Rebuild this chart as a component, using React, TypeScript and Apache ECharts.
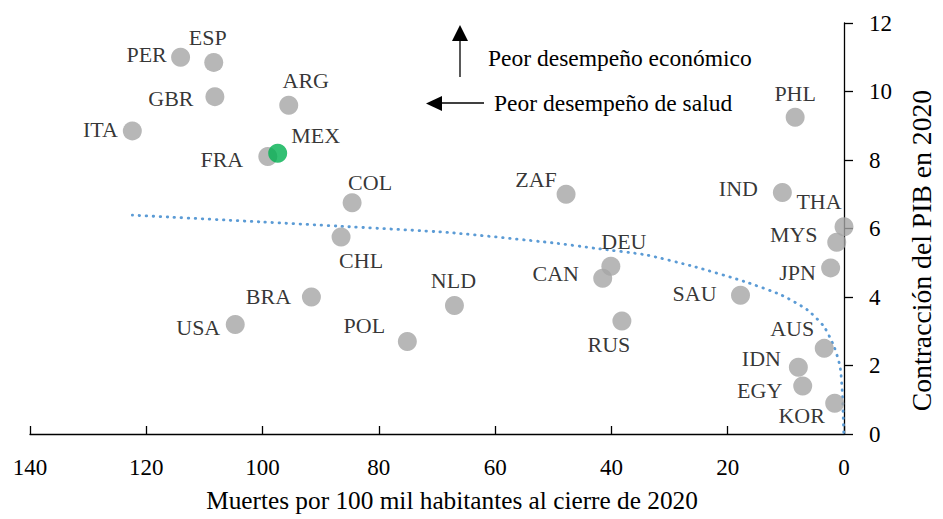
import React, { useEffect, useRef } from "react";
import * as echarts from "echarts";

const countries = ["PER", "ESP", "GBR", "ARG", "ITA", "FRA", "MEX", "COL", "CHL", "PHL", "ZAF", "IND", "THA", "MYS", "CAN", "DEU", "JPN", "SAU", "RUS", "AUS", "IDN", "EGY", "KOR", "BRA", "USA", "POL", "NLD"];
const deaths = [114.1, 108.4, 108.2, 95.5, 122.4, 99.1, 97.4, 84.6, 86.5, 8.4, 47.8, 10.6, 0.0, 1.25, 41.5, 40.1, 2.3, 17.8, 38.2, 3.4, 7.85, 7.1, 1.6, 91.6, 104.7, 75.1, 67.0];
const gdpContraction = [11.0, 10.85, 9.85, 9.6, 8.85, 8.1, 8.2, 6.75, 5.75, 9.25, 7.0, 7.05, 6.05, 5.6, 4.55, 4.9, 4.85, 4.05, 3.3, 2.5, 1.95, 1.4, 0.9, 4.0, 3.2, 2.7, 3.75];

// Trend line
const trendX = [122.4, 100, 87.1, 67.8, 50, 42.7, 34.1, 25.6, 17.1, 10.8, 6.27, 3.41, 1.7, 0.68, 0.28, 0.1, 0.03];
const trendY = [6.39, 6.19, 6.07, 5.88, 5.58, 5.42, 5.23, 4.88, 4.45, 4.06, 3.62, 3.13, 2.55, 1.97, 1.19, 0.32, 0.0];

const yTicks = [0, 2, 4, 6, 8, 10, 12];
const xTicks = [0, 20, 40, 60, 80, 100, 120, 140];

const highlight = "MEX";

// label offsets (px, relative to point centre)
const labelOffsets: Record<string, [number, number]> = {
  PER: [-34, -3], ESP: [-6, -25], GBR: [-44, 2], ARG: [17, -25], ITA: [-32, -1],
  FRA: [-46, 3], MEX: [38, -18], COL: [18, -20], CHL: [20, 23], PHL: [0, -24],
  ZAF: [-30, -15], IND: [-44, -4], THA: [-25, -25], MYS: [-43, -8], DEU: [13, -25],
  CAN: [-47, -5], JPN: [-33, 5], SAU: [-46, -2], RUS: [-13, 24], AUS: [-32, -20],
  IDN: [-37, -9], EGY: [-43, 4], KOR: [-33, 12], BRA: [-43, -1], USA: [-37, 3],
  POL: [-43, -16], NLD: [-1, -25],
};

const FONT = "'Liberation Serif', 'Times New Roman', 'DejaVu Serif', serif";

export default function App() {
  const ref = useRef<HTMLDivElement>(null);
  useEffect(() => {
    document.documentElement.style.margin = "0";
    document.documentElement.style.overflow = "hidden";
    document.body.style.margin = "0";
    document.body.style.overflow = "hidden";
    if (!ref.current) return;
    const chart = echarts.init(ref.current, null, { renderer: "svg" });
    const points = countries.map((c, i) => ({
      name: c,
      value: [deaths[i], gdpContraction[i]],
      itemStyle: { color: c === highlight ? "#00b050" : "#a5a5a5" },
      label: { offset: labelOffsets[c] },
      z: c === highlight ? 3 : 2,
    }));
    chart.setOption({
      animation: false,
      backgroundColor: "#ffffff",
      textStyle: { fontFamily: FONT },
      grid: { left: 30, right: 93, top: 23, bottom: 85, containLabel: false },
      xAxis: {
        type: "value",
        inverse: true,
        min: xTicks[0],
        max: xTicks[xTicks.length - 1],
        interval: 20,
        name: "Muertes por 100 mil habitantes al cierre de 2020",
        nameLocation: "middle",
        nameGap: 53,
        nameTextStyle: { fontFamily: FONT, fontSize: 25.3, color: "#000", padding: [0, 0, 0, 30] },
        axisLine: { show: true, lineStyle: { color: "#000", width: 1.3 } },
        axisTick: { show: true, inside: true, length: 8, lineStyle: { color: "#000", width: 1.3 } },
        axisLabel: { fontFamily: FONT, fontSize: 23, color: "#000", margin: 22 },
        splitLine: { show: false },
      },
      yAxis: {
        type: "value",
        position: "right",
        min: yTicks[0],
        max: yTicks[yTicks.length - 1],
        interval: 2,
        name: "Contracción del PIB en 2020",
        nameLocation: "middle",
        nameRotate: 90,
        nameGap: 63,
        nameTextStyle: { fontFamily: FONT, fontSize: 27.7, color: "#000", padding: [0, 44, 0, 0] },
        axisLine: { show: true, lineStyle: { color: "#000", width: 1.3 } },
        axisTick: { show: true, inside: false, length: 9, lineStyle: { color: "#000", width: 1.3 } },
        axisLabel: { fontFamily: FONT, fontSize: 23, color: "#000", margin: 25 },
        splitLine: { show: false },
      },
      series: [
        {
          type: "line",
          data: trendX.map((x, i) => [x, trendY[i]]),
          showSymbol: false,
          smooth: 0.2,
          lineStyle: { color: "#5b9bd5", width: 2.8, type: [0.5, 6.5], cap: "round" },
          z: 1,
          clip: false,
        },
        {
          type: "scatter",
          data: points,
          symbolSize: 19,
          clip: false,
          label: {
            show: true,
            position: "inside",
            formatter: "{b}",
            fontFamily: FONT,
            fontSize: 22,
            color: "#000",
            align: "center",
            verticalAlign: "middle",
          },
          z: 2,
        },
      ],
      graphic: [
        { type: "line", shape: { x1: 460, y1: 77, x2: 460, y2: 38 }, style: { stroke: "#000", lineWidth: 1.3 } },
        { type: "polygon", shape: { points: [[452, 41], [468, 41], [460, 25]] }, style: { fill: "#000" } },
        { type: "line", shape: { x1: 484, y1: 103, x2: 438, y2: 103 }, style: { stroke: "#000", lineWidth: 1.3 } },
        { type: "polygon", shape: { points: [[442, 96], [442, 111], [426, 103.5]] }, style: { fill: "#000" } },
        {
          type: "text", x: 488, y: 58,
          style: { text: "Peor desempeño económico", fontFamily: FONT, fontSize: 23.5, fill: "#000", textVerticalAlign: "middle" },
        },
        {
          type: "text", x: 494, y: 103,
          style: { text: "Peor desempeño de salud", fontFamily: FONT, fontSize: 23.5, fill: "#000", textVerticalAlign: "middle" },
        },
      ],
    });
    return () => chart.dispose();
  }, []);
  return <div ref={ref} style={{ width: 943, height: 519 }} />;
}
